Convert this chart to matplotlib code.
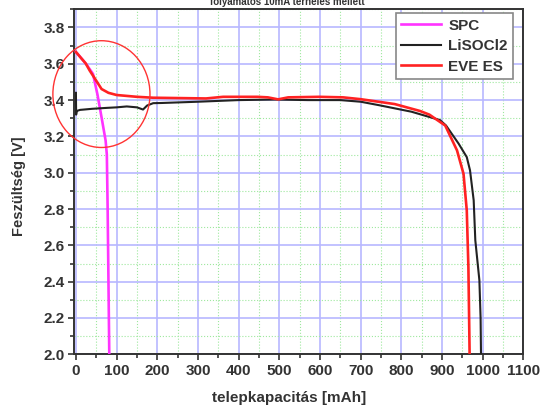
import numpy as np
import matplotlib
matplotlib.use("Agg")
import matplotlib.pyplot as plt
from matplotlib.patches import Ellipse
from matplotlib.ticker import MultipleLocator

# data
spc_x = [0, 24, 42, 53, 63, 73, 76, 78, 80, 82]
spc_y = [3.665, 3.602, 3.544, 3.43, 3.305, 3.177, 3.1, 2.8, 2.4, 2.0]

lisocl2_x = [0, 0.5, 2, 10, 40, 75, 100, 125, 150, 165, 175, 190, 210, 300, 400,
             490, 570, 650, 700, 745, 825, 895, 910, 941, 961, 969, 978, 982, 992,
             995, 996]
lisocl2_y = [3.44, 3.32, 3.34, 3.346, 3.352, 3.357, 3.36, 3.365, 3.36, 3.348, 3.37,
             3.383, 3.384, 3.391, 3.40, 3.403, 3.40, 3.40, 3.391, 3.372, 3.336, 3.29,
             3.26, 3.16, 3.086, 3.013, 2.848, 2.628, 2.408, 2.2, 2.0]

eve_x = [0, 24, 34, 49, 63, 80, 100, 150, 190, 320, 362, 446, 472, 497, 522, 598,
         657, 700, 784, 846, 869, 908, 937, 953, 961, 965, 968]
eve_y = [3.665, 3.602, 3.562, 3.51, 3.461, 3.44, 3.428, 3.418, 3.413, 3.409, 3.418,
         3.418, 3.415, 3.404, 3.415, 3.418, 3.415, 3.405, 3.378, 3.34, 3.32, 3.26,
         3.123, 2.994, 2.793, 2.48, 2.0]

labels = ["SPC", "LiSOCl2", "EVE ES"]
title = "folyamatos 10mA terhelés mellett"

font = ["Liberation Sans", "DejaVu Sans"]
txt = "#333333"

fig = plt.figure(figsize=(5.4, 4.07), dpi=100)
ax = fig.add_axes([74.3 / 540, 1 - 354.3 / 407, 449 / 540, 345 / 407])

ax.plot(spc_x, spc_y, color="#ff33ff", lw=1.9, label=labels[0], zorder=3)
ax.plot(lisocl2_x, lisocl2_y, color="#222222", lw=1.5, label=labels[1], zorder=4)
ax.plot(eve_x, eve_y, color="#ff2222", lw=1.9, label=labels[2], zorder=5)

ax.add_patch(Ellipse((62.7, 3.433), 238.7, 0.588, fill=False, ec="#ff3333",
                     lw=1.0, clip_on=False, zorder=6))

ax.set_xlim(-4, 1100)
ax.set_ylim(2.0, 3.9)
ax.xaxis.set_major_locator(MultipleLocator(100))
ax.xaxis.set_minor_locator(MultipleLocator(50))
ax.yaxis.set_major_locator(MultipleLocator(0.2))
ax.yaxis.set_minor_locator(MultipleLocator(0.1))
ax.yaxis.set_major_formatter(matplotlib.ticker.FormatStrFormatter("%.1f"))

ax.grid(which="major", color="#b8b8ff", lw=1.2)
ax.grid(which="minor", color="#9ee89e", lw=0.8, ls=":")
ax.set_axisbelow(True)

for s in ax.spines.values():
    s.set_color(txt)
    s.set_linewidth(1.4)
ax.tick_params(which="both", direction="out", color=txt, width=1.2)
ax.tick_params(which="major", length=4, pad=3)
ax.tick_params(which="minor", length=3)
for t in ax.get_xticklabels() + ax.get_yticklabels():
    t.set_fontfamily(font)
    t.set_fontweight("bold")
    t.set_fontsize(11)
    t.set_color(txt)

leg = ax.legend(loc="upper right", bbox_to_anchor=(0.9777, 0.988), borderaxespad=0,
                prop={"family": font, "weight": "bold", "size": 11},
                handlelength=2.6, handletextpad=0.5, labelspacing=0.42,
                borderpad=0.35, fancybox=False, framealpha=1)
leg.get_frame().set_edgecolor("#888888")
leg.get_frame().set_linewidth(1.2)
for t in leg.get_texts():
    t.set_color(txt)

fig.text(19 / 540, 1 - 186.5 / 407, "Feszültség [V]", rotation=90, ha="center",
         va="center", family=font, weight="bold", size=10.5, color=txt)
fig.text(289 / 540, 1 - 398 / 407, "telepkapacitás [mAh]", ha="center",
         va="center", family=font, weight="bold", size=11, color=txt)
fig.text(287 / 540, 1 - 5 / 407, title, ha="center", va="baseline",
         family=font, weight="bold", size=7, color=txt)

fig.savefig("out.png", dpi=100)
